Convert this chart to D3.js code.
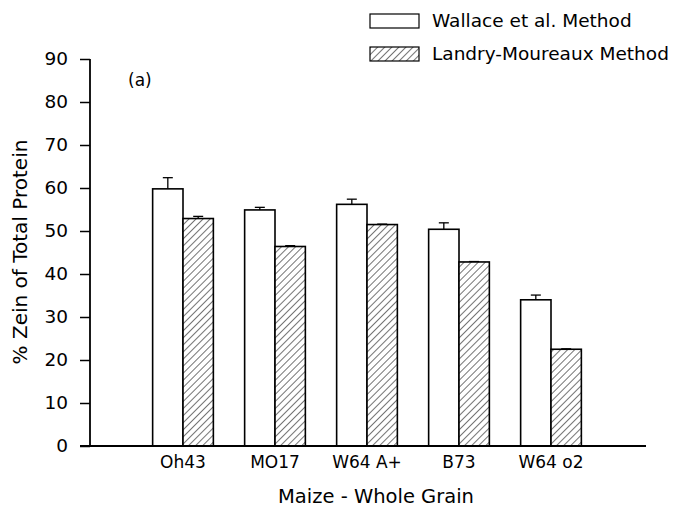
<!DOCTYPE html>
<html>
<head>
<meta charset="utf-8">
<script src="https://cdn.jsdelivr.net/npm/d3@7"></script>
<style>
  body { margin: 0; background: #fff; }
  svg { font-family: "DejaVu Sans", sans-serif; }
</style>
</head>
<body>
<script>
const w = 680;
const h = 508;

const categories = ["Oh43", "MO17", "W64 A+", "B73", "W64 o2"];
const seriesNames = ["Wallace et al. Method", "Landry-Moureaux Method"];
const wallace = [59.8, 54.9, 56.2, 50.4, 34.0];
const wallaceErr = [2.6, 0.6, 1.2, 1.5, 1.1];
const landry = [52.9, 46.4, 51.5, 42.8, 22.5];
const landryErr = [0.5, 0.2, 0.1, 0.1, 0.1];
const yTicks = [0, 10, 20, 30, 40, 50, 60, 70, 80, 90];

const axisLeftX = 90;
const axisRightX = 646;
const yBottom = 446;
const yTop = 59;
const fontFam = "DejaVu Sans, sans-serif";

const svg = d3.select("body").append("svg").attr("width", w).attr("height", h);

const defs = svg.append("defs");
const pat = defs.append("pattern")
  .attr("id", "hatch")
  .attr("patternUnits", "userSpaceOnUse")
  .attr("width", 5)
  .attr("height", 5)
  .attr("patternTransform", "rotate(45)");
pat.append("rect").attr("width", 5).attr("height", 5).attr("fill", "#fff");
pat.append("line")
  .attr("x1", 0).attr("y1", 0).attr("x2", 0).attr("y2", 5)
  .attr("stroke", "#000").attr("stroke-width", 1.1);

const yScale = d3.scaleLinear().domain([0, 90]).range([yBottom, yTop]);

const xScale = d3.scaleBand()
  .domain(categories)
  .range([137, 597])
  .paddingInner(0.34)
  .paddingOuter(0.17);

const xSub = d3.scaleBand()
  .domain([0, 1])
  .range([0, xScale.bandwidth()]);

const groups = svg.append("g").selectAll("g.group")
  .data(categories)
  .enter()
  .append("g")
  .attr("class", "group")
  .attr("transform", d => "translate(" + xScale(d) + ",0)");

const series = [
  { vals: wallace, errs: wallaceErr, fill: "#fff" },
  { vals: landry, errs: landryErr, fill: "url(#hatch)" }
];

series.forEach(function (s, si) {
  const cx = xSub(si) + xSub.bandwidth() / 2;
  groups.append("line")
    .attr("x1", cx).attr("x2", cx)
    .attr("y1", (d, i) => yScale(s.vals[i]))
    .attr("y2", (d, i) => yScale(s.vals[i] + s.errs[i]))
    .attr("stroke", "#000").attr("stroke-width", 1.3);
  groups.append("line")
    .attr("x1", cx - 5).attr("x2", cx + 5)
    .attr("y1", (d, i) => yScale(s.vals[i] + s.errs[i]))
    .attr("y2", (d, i) => yScale(s.vals[i] + s.errs[i]))
    .attr("stroke", "#000").attr("stroke-width", 1.3);
  groups.append("rect")
    .attr("x", xSub(si))
    .attr("width", xSub.bandwidth())
    .attr("y", (d, i) => yScale(s.vals[i]))
    .attr("height", (d, i) => yBottom - yScale(s.vals[i]))
    .attr("fill", s.fill)
    .attr("stroke", "#000")
    .attr("stroke-width", 1.6);
});

// y axis
const yAxis = d3.axisLeft(yScale).tickValues(yTicks).tickSize(10).tickPadding(12);
const yg = svg.append("g")
  .attr("transform", "translate(" + axisLeftX + ",0)")
  .call(yAxis);
yg.select(".domain").attr("stroke-width", 1.8).attr("d", "M0," + yTop + "V" + yBottom);
yg.selectAll(".tick line").attr("stroke-width", 1.5);
yg.selectAll(".tick text")
  .attr("font-size", 18.5)
  .attr("font-family", fontFam)
  .attr("fill", "#000");

// x axis
const xAxis = d3.axisBottom(xScale).tickSize(0).tickPadding(10);
const xg = svg.append("g")
  .attr("transform", "translate(0," + yBottom + ")")
  .call(xAxis);
xg.select(".domain").attr("stroke-width", 1.8).attr("d", "M" + (axisLeftX - 10) + ",0H" + axisRightX);
xg.selectAll(".tick text")
  .attr("font-size", 17)
  .attr("font-family", fontFam)
  .attr("fill", "#000");

// titles
svg.append("text")
  .attr("x", 376).attr("y", 503)
  .attr("text-anchor", "middle")
  .attr("font-size", 19.5)
  .text("Maize - Whole Grain");

svg.append("text")
  .attr("transform", "translate(27,252) rotate(-90)")
  .attr("text-anchor", "middle")
  .attr("font-size", 20)
  .text("% Zein of Total Protein");

svg.append("text")
  .attr("x", 128).attr("y", 86)
  .attr("font-size", 17)
  .text("(a)");

// legend
const legend = svg.append("g").selectAll("g")
  .data(seriesNames)
  .enter()
  .append("g")
  .attr("transform", (d, i) => "translate(370," + (14 + i * 33) + ")");
legend.append("rect")
  .attr("width", 49).attr("height", 14)
  .attr("fill", (d, i) => series[i].fill)
  .attr("stroke", "#000").attr("stroke-width", 1.2);
legend.append("text")
  .attr("x", 62).attr("y", 13)
  .attr("font-size", 18.5)
  .text(d => d);
</script>
</body>
</html>
